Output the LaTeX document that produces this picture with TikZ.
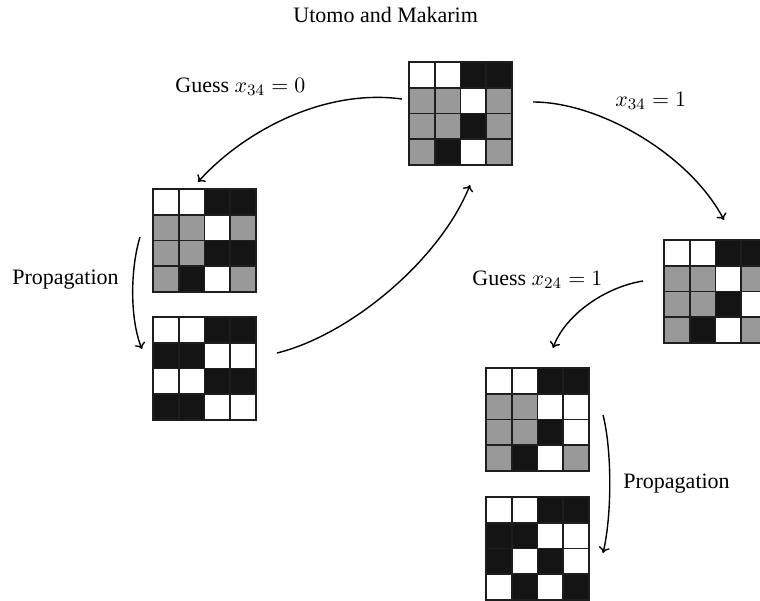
\documentclass[tikz,border=0pt]{standalone}
\usepackage{fontspec}
\setmainfont{Liberation Serif}
\usetikzlibrary{calc,arrows.meta}
\definecolor{cellgray}{HTML}{999999}
\definecolor{cellblack}{HTML}{141414}
\definecolor{gridline}{HTML}{1E1E1E}
\colorlet{W}{white}
\colorlet{G}{cellgray}
\colorlet{B}{cellblack}
\tikzset{
  gridbox/.style={inner sep=0pt, minimum width=51.5pt, minimum height=51.5pt, anchor=north west},
  cellstyle/.style={draw=gridline, line width=0.8pt},
  flow/.style={line width=0.7pt, -{To[length=3pt,width=5.5pt]}},
  lbl/.style={font=\fontsize{11}{13}\selectfont, inner sep=0pt, anchor=base west},
}
\newcommand\gridcells[2]{%
  \foreach \cc [count=\ii from 0] in {#2} {%
    \pgfmathtruncatemacro\rr{floor(\ii/4)}%
    \pgfmathtruncatemacro\kk{mod(\ii,4)}%
    \path[cellstyle,fill=\cc] ($(#1.north west)+(\kk*25.75,\rr*25.75)$) rectangle ++(25.75,25.75);
  }}
\begin{document}
\begin{tikzpicture}[x=0.5pt,y=-0.5pt]
\useasboundingbox (0,0) rectangle (760,600);
\clip (0,0) rectangle (760,600);
\fill[white] (0,0) rectangle (760,600);
% grids
\node[gridbox] (g1) at (409,62) {};
\node[gridbox] (g2) at (153,189) {};
\node[gridbox] (g3) at (153,317) {};
\node[gridbox] (g4) at (664,240) {};
\node[gridbox] (g5) at (486,368) {};
\node[gridbox] (g6) at (486,497) {};
\gridcells{g1}{W,W,B,B, G,G,W,G, G,G,B,G, G,B,W,G}
\gridcells{g2}{W,W,B,B, G,G,W,G, G,G,B,B, G,B,W,G}
\gridcells{g3}{W,W,B,B, B,B,W,W, W,W,B,B, B,B,W,W}
\gridcells{g4}{W,W,B,B, G,G,W,G, G,G,B,W, G,B,W,G}
\gridcells{g5}{W,W,B,B, G,G,W,W, G,G,B,W, G,B,W,G}
\gridcells{g6}{W,W,B,B, B,B,W,W, B,W,B,W, W,B,W,B}
% labels
\node[lbl] (title) at (293,22) {Utomo and Makarim};
\node[lbl] (l1) at (175,92) {Guess $x_{34}=0$};
\node[lbl] (l2) at (615,106) {$x_{34}=1$};
\node[lbl] (l3) at (12,284) {Propagation};
\node[lbl] (l4) at (472,285) {Guess $x_{24}=1$};
\node[lbl] (l5) at (623,488) {Propagation};
% connector ends
\coordinate (a1s) at (402,99);   \coordinate (a1e) at (198,182);
\coordinate (a2s) at (277,353);  \coordinate (a2e) at (470,185);
\coordinate (a3s) at (533,102);  \coordinate (a3e) at (724,220);
\coordinate (a4s) at (643,281);  \coordinate (a4e) at (553,348);
\coordinate (a5s) at (140,237);  \coordinate (a5e) at (142,349);
\coordinate (a6s) at (603,415);  \coordinate (a6e) at (603,553);
% connectors
\draw[flow] (a1s) .. controls (320,88) and (240,135) .. (a1e);
\draw[flow] (a2s) .. controls (350,335) and (440,260) .. (a2e);
\draw[flow] (a3s) .. controls (600,102) and (690,155) .. (a3e);
\draw[flow] (a4s) .. controls (605,287) and (565,315) .. (a4e);
\draw[flow] (a5s) .. controls (130,270) and (130,320) .. (a5e);
\draw[flow] (a6s) .. controls (612,450) and (612,515) .. (a6e);
\end{tikzpicture}
\end{document}
